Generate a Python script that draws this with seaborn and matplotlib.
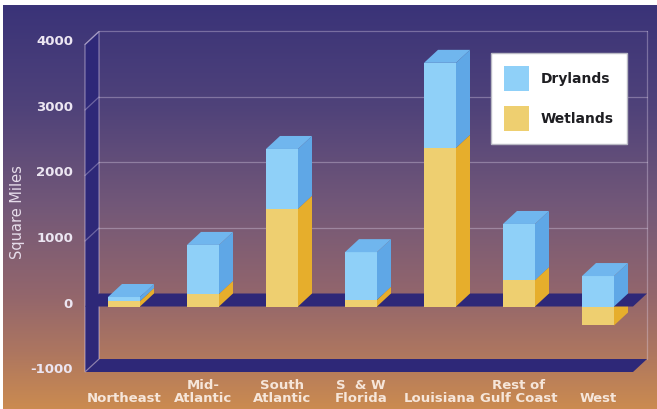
import numpy as np
import pandas as pd
import matplotlib
matplotlib.use("Agg")
import matplotlib.pyplot as plt
import matplotlib.transforms as mtransforms
from matplotlib.patches import Polygon, Patch
from matplotlib.colors import LinearSegmentedColormap
import seaborn as sns

# ---------------- data ----------------
regions = ["Northeast", "Mid-\nAtlantic", "South\nAtlantic", "S  & W\nFlorida",
           "Louisiana", "Rest of\nGulf Coast", "West"]
wetlands = [80, 190, 1490, 100, 2420, 400, -290]
drylands = [65, 750, 915, 730, 1300, 860, 465]
y_ticks = [-1000, 0, 1000, 2000, 3000, 4000]
y_tick_labels = ["-1000", "0", "1000", "2000", "3000", "4000"]
series_names = ["Drylands", "Wetlands"]

# ---------------- geometry / style ----------------
W_PX, H_PX, DPI = 657, 409, 100
X0_PX, STEP_PX = 124, 79        # first category centre, category spacing (px)
Z_PX, SCALE = 306.5, 0.0655     # zero line (px from top), px per unit
DX_PX, DY_PX = 14, 13           # depth offset (px)
BAR_W = 32 / STEP_PX

BLUE_FRONT, BLUE_SIDE, BLUE_TOP = "#8fd0f8", "#5fa7e6", "#70b6ee"
YEL_FRONT, YEL_SIDE = "#eecf70", "#e6ae2c"
NAVY = "#2e2878"
LINE = dict(color="#e4d8ee", alpha=0.35, lw=0.9)

sns.set_theme(style="white")
plt.rcParams["font.family"] = ["DejaVu Sans"]

fig = plt.figure(figsize=(W_PX / DPI, H_PX / DPI), dpi=DPI)
fig.patch.set_facecolor("white")

# background gradient
bg = fig.add_axes([3 / W_PX, 0, 1 - 3 / W_PX, 1 - 5 / H_PX], zorder=0)
stops = [(0.0, "#3a3378"), (0.25, "#4f427a"), (0.5, "#735878"),
         (0.72, "#93666c"), (0.86, "#ad7660"), (1.0, "#cb8b50")]
cmap = LinearSegmentedColormap.from_list("bg", stops)
bg.imshow(np.linspace(0, 1, 256).reshape(-1, 1), aspect="auto", cmap=cmap)
bg.set_axis_off()

ax = fig.add_axes([0, 0, 1, 1], zorder=1)
ax.patch.set_alpha(0)

dx = DX_PX / STEP_PX
dy = DY_PX / SCALE

# ---------------- bars (front faces) ----------------
tops = [max(w, 0) + d for w, d in zip(wetlands, drylands)]
df = pd.DataFrame({"region": regions, "top": tops, "wet": wetlands})
sns.barplot(data=df, x="region", y="top", order=regions, color=BLUE_FRONT,
            saturation=1, width=BAR_W, errorbar=None, linewidth=0,
            zorder=4, ax=ax)
sns.barplot(data=df, x="region", y="wet", order=regions, color=YEL_FRONT,
            saturation=1, width=BAR_W, errorbar=None, linewidth=0,
            zorder=4.1, ax=ax)

xlim = (-X0_PX / STEP_PX, (W_PX - X0_PX) / STEP_PX)
ylim = ((Z_PX - H_PX) / SCALE, Z_PX / SCALE)
ax.set_xlim(*xlim)
ax.set_ylim(*ylim)

# ---------------- 3D box ----------------
fx0, fx1 = (85 - X0_PX) / STEP_PX, (633 - X0_PX) / STEP_PX
vbot, vtop = y_ticks[0], y_ticks[-1]

for v in y_ticks[2:]:
    ax.plot([fx0 + dx, fx1 + dx], [v + dy, v + dy], zorder=1, **LINE)
    ax.plot([fx0, fx0 + dx], [v, v + dy], zorder=2.2, **LINE)
ax.plot([fx1 + dx, fx1 + dx], [vbot + dy, vtop + dy], zorder=1, **LINE)

ax.add_patch(Polygon([(fx0, vbot), (fx1, vbot), (fx1 + dx, vbot + dy), (fx0 + dx, vbot + dy)],
                     closed=True, fc=NAVY, ec="none", zorder=1.5))
ax.add_patch(Polygon([(fx0, vbot), (fx0 + dx, vbot + dy), (fx0 + dx, vtop + dy), (fx0, vtop)],
                     closed=True, fc=NAVY, ec=(0.9, 0.85, 0.94, 0.45), lw=0.9, zorder=2))
ax.add_patch(Polygon([(fx0, 0), (fx1, 0), (fx1 + dx, dy), (fx0 + dx, dy)],
                     closed=True, fc=NAVY, ec="none", zorder=3))

# ---------------- bar sides and tops ----------------
hw = BAR_W / 2
for i, (w, d) in enumerate(zip(wetlands, drylands)):
    xl, xr = i - hw, i + hw
    b = max(w, 0)
    t = b + d
    ax.add_patch(Polygon([(xr, b), (xr + dx, b + dy), (xr + dx, t + dy), (xr, t)],
                         closed=True, fc=BLUE_SIDE, ec="none", zorder=4.2))
    ax.add_patch(Polygon([(xl, t), (xr, t), (xr + dx, t + dy), (xl + dx, t + dy)],
                         closed=True, fc=BLUE_TOP, ec="none", zorder=4.2))
    if w >= 0:
        ax.add_patch(Polygon([(xr, 0), (xr + dx, dy), (xr + dx, w + dy), (xr, w)],
                             closed=True, fc=YEL_SIDE, ec="none", zorder=4.2))
    else:
        ax.add_patch(Polygon([(xr, w), (xr + dx, w + dy), (xr + dx, dy), (xr, 0)],
                             closed=True, fc=YEL_SIDE, ec="none", zorder=2.5))

# ---------------- axes text ----------------
for s in ax.spines.values():
    s.set_visible(False)
ax.spines["left"].set_position(("data", fx0))
ax.spines["bottom"].set_position(("data", vbot))
ax.set_yticks(y_ticks, y_tick_labels)
ax.set_xticks(range(len(regions)), regions)
ax.tick_params(axis="y", length=0, pad=8.6, labelsize=9.5, labelcolor="#ece6f2")
ax.tick_params(axis="x", length=0, pad=24, labelsize=9.5, labelcolor="#f6e6da")
ax.set_xlabel("")
for t in ax.get_xticklabels():
    t.set_va("bottom")
    t.set_fontweight("bold")
    t.set_linespacing(1.05)
for t in ax.get_yticklabels():
    t.set_fontweight("bold")
    t.set_transform(t.get_transform() +
                    mtransforms.ScaledTranslation(0, 4 / DPI, fig.dpi_scale_trans))

ax.set_ylabel("Square Miles", fontsize=10.5, color="#e6dcea")
ax.yaxis.set_label_coords(25 / W_PX, 1 - 212 / H_PX)

handles = [Patch(facecolor=BLUE_FRONT, edgecolor="none", label=series_names[0]),
           Patch(facecolor=YEL_FRONT, edgecolor="none", label=series_names[1])]
leg = ax.legend(handles=handles, loc="upper left",
                bbox_to_anchor=(491 / W_PX, 1 - 53 / H_PX), bbox_transform=fig.transFigure,
                borderaxespad=0, frameon=True, fancybox=False, framealpha=1,
                facecolor="white", edgecolor="#b9b9c4",
                prop={"size": 10, "weight": "bold"},
                handlelength=1.8, handleheight=2.39, labelspacing=1.08,
                borderpad=0.94, handletextpad=0.86)
for t in leg.get_texts():
    t.set_color("#1e1e22")
leg.set_zorder(10)

fig.savefig("out.png", dpi=DPI)
